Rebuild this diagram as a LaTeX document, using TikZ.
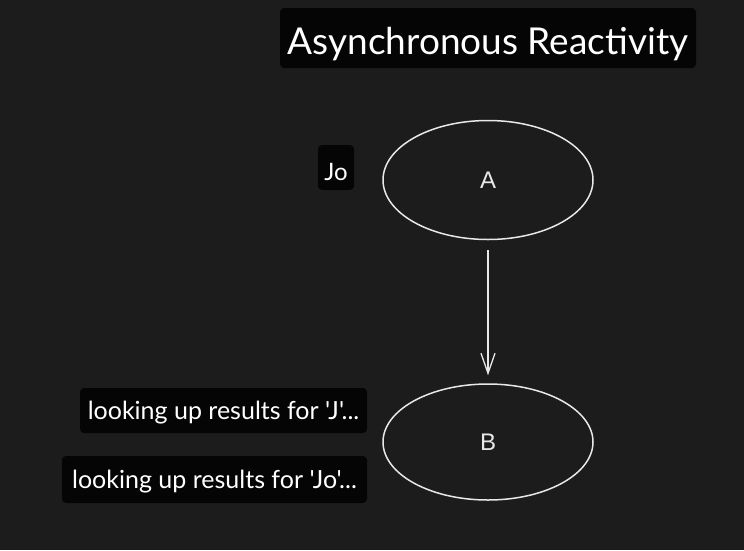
\documentclass[tikz,border=0pt]{standalone}
\usepackage{fontspec}
\setmainfont{Lato}
\newfontfamily\labelfont{Lato}
\newfontfamily\handfont{Liberation Sans}
\usetikzlibrary{shapes.geometric,arrows.meta}
\definecolor{bgc}{HTML}{1C1C1C}
\definecolor{boxc}{HTML}{050505}
\definecolor{inkc}{HTML}{E8E8E8}
\tikzset{
  labelbox/.style={fill=boxc, rounded corners=4pt, text=white, inner sep=0pt, text depth=0pt},
  bubble/.style={ellipse, draw=inkc, line width=1.5pt, inner sep=0pt, minimum width=210pt, minimum height=119pt, text=inkc, text depth=0pt, text height=16pt, font=\handfont\fontsize{24}{28}\selectfont},
  flow/.style={draw=inkc, line width=1.3pt, -{Straight Barb[length=20pt,width=14pt,line width=1.3pt]}}
}
\begin{document}
\begin{tikzpicture}[x=1pt,y=-1pt]
\fill[bgc] (0,0) rectangle (744,550);
\useasboundingbox (0,0) rectangle (744,550);
\node[labelbox, text height=32pt, minimum width=416pt, minimum height=60pt, font=\labelfont\fontsize{37}{42}\selectfont] (title) at (488,38) {Asynchronous Reactivity};
\node[labelbox, text height=26pt, minimum width=36pt, minimum height=45pt, font=\labelfont\fontsize{24}{28}\selectfont] (jo) at (336,167.5) {Jo};
\node[labelbox, text height=18pt, minimum width=287pt, minimum height=45pt, font=\labelfont\fontsize{25}{29}\selectfont] (l1) at (223.5,410.5) {looking up results for 'J'...};
\node[labelbox, text height=17pt, minimum width=305pt, minimum height=47pt, font=\labelfont\fontsize{25}{29}\selectfont] (l2) at (214.5,479.5) {looking up results for 'Jo'...};
\node[bubble] (A) at (488,180) {A};
\node[bubble, minimum height=116pt] (B) at (488,442) {B};
\draw[flow, shorten <=10pt, shorten >=8pt] (A) -- (B);
\end{tikzpicture}
\end{document}
